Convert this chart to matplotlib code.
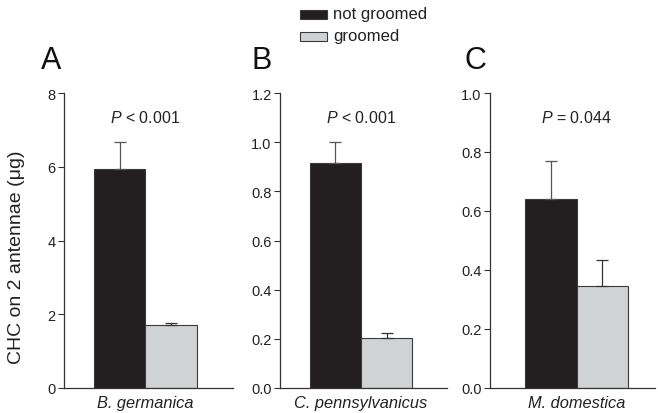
import matplotlib
matplotlib.use("Agg")
import matplotlib.pyplot as plt
from matplotlib.patches import Rectangle

plt.rcParams['font.family'] = ['Liberation Sans', 'DejaVu Sans']
plt.rcParams['mathtext.fontset'] = 'custom'
plt.rcParams['mathtext.it'] = 'Liberation Sans:italic'
plt.rcParams['mathtext.rm'] = 'Liberation Sans'

species = ["B. germanica", "C. pennsylvanicus", "M. domestica"]
letters = ["A", "B", "C"]
series_names = ["not groomed", "groomed"]
not_groomed = [5.93, 0.915, 0.64]
not_groomed_err = [0.75, 0.085, 0.13]
groomed = [1.70, 0.205, 0.347]
groomed_err = [0.07, 0.02, 0.087]
p_texts = [r"$P$ < 0.001", r"$P$ < 0.001", r"$P$ = 0.044"]
ylims = [8, 1.2, 1.0]
yticks = [[0, 2, 4, 6, 8], [0.0, 0.2, 0.4, 0.6, 0.8, 1.0, 1.2], [0.0, 0.2, 0.4, 0.6, 0.8, 1.0]]
ytick_labels = [["0", "2", "4", "6", "8"],
                ["0.0", "0.2", "0.4", "0.6", "0.8", "1.0", "1.2"],
                ["0.0", "0.2", "0.4", "0.6", "0.8", "1.0"]]

black = "#231f20"
grey = "#d1d2d4"
edge = "#3a3a3a"
W, H = 658, 414
fig = plt.figure(figsize=(W / 100, H / 100), dpi=100)

axes_px = [(64, 233), (280, 447), (490, 655)]
xlims = [(-1.08, 2.2), (-1.08, 2.18), (-1.18, 2.02)]
letter_x = [41, 251, 465]
ybot, ytop = 389, 94

for i in range(3):
    l, r = axes_px[i]
    ax = fig.add_axes([l / W, (H - ybot) / H, (r - l) / W, (ybot - ytop) / H])
    ax.bar([0], [not_groomed[i]], width=1.0, color=black, edgecolor=edge, linewidth=0.8,
           yerr=[[0], [not_groomed_err[i]]], error_kw=dict(ecolor="#555555", elinewidth=0.9, capsize=4, capthick=0.9))
    ax.bar([1], [groomed[i]], width=1.0, color=grey, edgecolor=edge, linewidth=0.8,
           yerr=[[0], [groomed_err[i]]], error_kw=dict(ecolor="#333333", elinewidth=0.9, capsize=4, capthick=0.9))
    ax.set_xlim(*xlims[i])
    ax.set_ylim(0, ylims[i])
    ax.set_yticks(yticks[i])
    ax.set_yticklabels(ytick_labels[i])
    ax.set_xticks([])
    for s in ["top", "right"]:
        ax.spines[s].set_visible(False)
    for s in ["left", "bottom"]:
        ax.spines[s].set_color("#333333")
        ax.spines[s].set_linewidth(0.9)
    ax.tick_params(axis='y', direction='out', length=4.5, width=0.8, labelsize=10.5, colors="#333333", pad=1.5)
    ax.tick_params(axis='y', labelcolor="#222222")
    ax.text(0.5, ylims[i] * 0.918, p_texts[i], ha='center', va='center', fontsize=11.5, color="#222222")
    ax.text(0.5, -0.024, species[i], transform=ax.get_xaxis_transform(), ha='center', va='top',
            fontsize=11.8, style='italic', color="#222222")
    fig.text(letter_x[i] / W, 1 - 61 / H, letters[i], fontsize=22, ha='left', va='center', color="#111111")

fig.text(17 / W, 1 - 257 / H, "CHC on 2 antennae (μg)", rotation=90, ha='center', va='center',
         fontsize=14, color="#222222")

# legend (drawn in figure pixels)
leg_colors = [black, grey]
leg_y = [15, 37]
for name, c, yc in zip(series_names, leg_colors, leg_y):
    fig.add_artist(Rectangle((300 / W, 1 - (yc + 4.5) / H), 27 / W, 9 / H, transform=fig.transFigure,
                             facecolor=c, edgecolor=edge, linewidth=0.8))
    fig.text(333 / W, 1 - yc / H, name, ha='left', va='center', fontsize=12, color="#222222")

fig.savefig("out.png", dpi=100)
